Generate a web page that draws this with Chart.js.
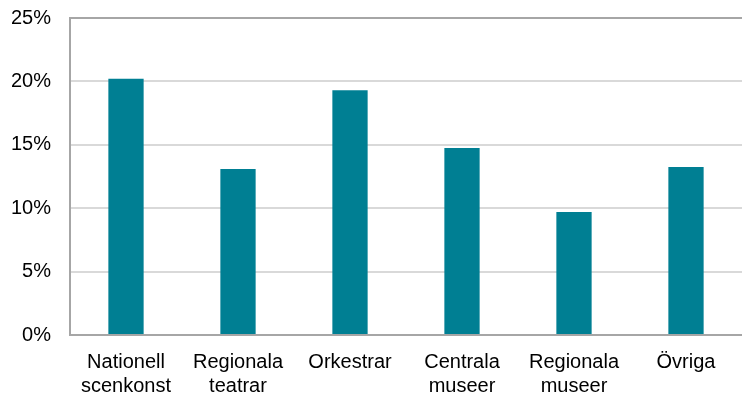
<!DOCTYPE html>
<html lang="sv">
<head>
  <meta charset="UTF-8">
  <title>Andel per verksamhet</title>
  <style>
    html, body { margin: 0; padding: 0; background: #fff; }
    .card { width: 742px; height: 393px; position: relative; }
  </style>
</head>
<body>
  <div class="card">
    <canvas id="stapelChart"></canvas>
  </div>
  <script src="https://cdn.jsdelivr.net/npm/chart.js"></script>
  <script>
    const kategorier = [
      ['Nationell', 'scenkonst'],
      ['Regionala', 'teatrar'],
      'Orkestrar',
      ['Centrala', 'museer'],
      ['Regionala', 'museer'],
      'Övriga'
    ];
    const andelar = [20.2, 13.1, 19.3, 14.75, 9.7, 13.25];
    const yTicks = [0, 5, 10, 15, 20, 25];

    const ctx = document.getElementById('stapelChart').getContext('2d');
    new Chart(ctx, {
      type: 'bar',
      data: {
        labels: kategorier,
        datasets: [{
          label: 'Andel',
          data: andelar,
          backgroundColor: '#007f93',
          borderWidth: 0,
          barPercentage: 0.315,
          categoryPercentage: 1
        }]
      },
      options: {
        responsive: true,
        maintainAspectRatio: false,
        animation: false,
        layout: { padding: { top: 18, right: 0, left: 0, bottom: 0 } },
        plugins: {
          legend: { display: false },
          tooltip: { enabled: false }
        },
        scales: {
          x: {
            grid: { display: false, drawTicks: false },
            border: { color: '#a6a6a6', width: 2 },
            ticks: {
              color: '#000',
              font: { family: 'Liberation Sans, Arial, sans-serif', size: 20 },
              padding: 15,
              maxRotation: 0,
              autoSkip: false
            },
            afterFit: (scale) => { scale.height = 58; scale.paddingLeft = 0; scale.paddingRight = 0; }
          },
          y: {
            min: 0,
            max: 25,
            afterBuildTicks: (scale) => { scale.ticks = yTicks.map(v => ({ value: v })); },
            grid: {
              drawTicks: false,
              lineWidth: 2,
              color: (c) => c.tick && c.tick.value === 25 ? '#a6a6a6' : '#d9d9d9'
            },
            border: { color: '#a6a6a6', width: 2 },
            ticks: {
              color: '#000',
              font: { family: 'Liberation Sans, Arial, sans-serif', size: 20 },
              padding: 19,
              callback: (v) => v + '%'
            },
            afterFit: (scale) => { scale.width = 70; scale.paddingTop = 0; scale.paddingBottom = 0; }
          }
        }
      }
    });
  </script>
</body>
</html>
